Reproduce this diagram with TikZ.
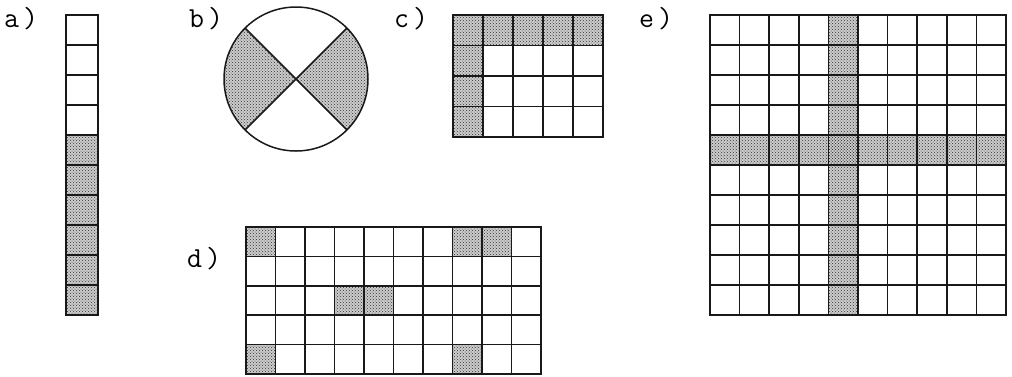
\documentclass[tikz,border=0pt]{standalone}
\usetikzlibrary{patterns,calc}
\begin{document}
\begin{tikzpicture}[x=1pt,y=-1pt,
  shade/.style={fill=gray!40},
  stip/.style={pattern=crosshatch dots, pattern color=black!80},
  gline/.style={line width=1.5pt, draw=black!90},
  lbl/.style={anchor=base west, inner sep=0pt, font=\ttfamily\fontsize{29}{29}\selectfont}]
\useasboundingbox (0,0) rectangle (1012,376);
% labels
\node[lbl] (la) at (4,27) {a\kern4pt)};
\node[lbl] (lb) at (189,27) {b\kern4pt)};
\node[lbl] (lc) at (394,27) {c\kern4pt)};
\node[lbl] (ld) at (187,267) {d\kern4pt)};
\node[lbl] (le) at (639,27) {e\kern4pt)};
% a) strip
\foreach \i in {4,...,9}{
  \fill[shade] (66,15+30*\i) rectangle (98,45+30*\i);
  \fill[stip] (66,15+30*\i) rectangle (98,45+30*\i);
}
\draw[gline] (66,15) rectangle (98,315);
\foreach \i in {1,...,9} \draw[gline] (66,15+30*\i) -- (98,15+30*\i);
% b) circle
\coordinate (bc) at (296,79);
\begin{scope}
  \clip (bc) circle (72);
  \fill[shade] (bc) -- ++(-100,-100) -- ++(0,200) -- cycle;
  \fill[shade] (bc) -- ++(100,-100) -- ++(0,200) -- cycle;
  \fill[stip] (bc) -- ++(-100,-100) -- ++(0,200) -- cycle;
  \fill[stip] (bc) -- ++(100,-100) -- ++(0,200) -- cycle;
\end{scope}
\draw[gline] (bc) circle (72);
\draw[gline] ($(bc)+(135:72)$) -- ($(bc)+(-45:72)$);
\draw[gline] ($(bc)+(45:72)$) -- ($(bc)+(225:72)$);
% c) grid 5x4
\foreach \c in {0,...,4}{
  \fill[shade] (453+30*\c,15) rectangle (483+30*\c,45.5);
  \fill[stip] (453+30*\c,15) rectangle (483+30*\c,45.5);
}
\foreach \r in {1,...,3}{
  \fill[shade] (453,15+30.5*\r) rectangle (483,45.5+30.5*\r);
  \fill[stip] (453,15+30.5*\r) rectangle (483,45.5+30.5*\r);
}
\draw[gline] (453,15) rectangle (603,137);
\foreach \c in {1,...,4} \draw[gline] (453+30*\c,15) -- (453+30*\c,137);
\foreach \r in {1,...,3} \draw[gline] (453,15+30.5*\r) -- (603,15+30.5*\r);
% d) grid 10x5
\foreach \c/\r in {0/0,7/0,8/0,3/2,4/2,0/4,7/4}{
  \fill[shade] (246+29.5*\c,227+29.4*\r) rectangle (275.5+29.5*\c,256.4+29.4*\r);
  \fill[stip] (246+29.5*\c,227+29.4*\r) rectangle (275.5+29.5*\c,256.4+29.4*\r);
}
\draw[gline] (246,227) rectangle (541,374);
\foreach \c in {1,...,9} \draw[gline] (246+29.5*\c,227) -- (246+29.5*\c,374);
\foreach \r in {1,...,4} \draw[gline] (246,227+29.4*\r) -- (541,227+29.4*\r);
% e) grid 10x10
\fill[shade] (828.4,15) rectangle (858,315);
\fill[shade] (710,135) rectangle (1006,165);
\fill[stip] (828.4,15) rectangle (858,315);
\fill[stip] (710,135) rectangle (1006,165);
\draw[gline] (710,15) rectangle (1006,315);
\foreach \c in {1,...,9} \draw[gline] (710+29.6*\c,15) -- (710+29.6*\c,315);
\foreach \r in {1,...,9} \draw[gline] (710,15+30*\r) -- (1006,15+30*\r);
\end{tikzpicture}
\end{document}
